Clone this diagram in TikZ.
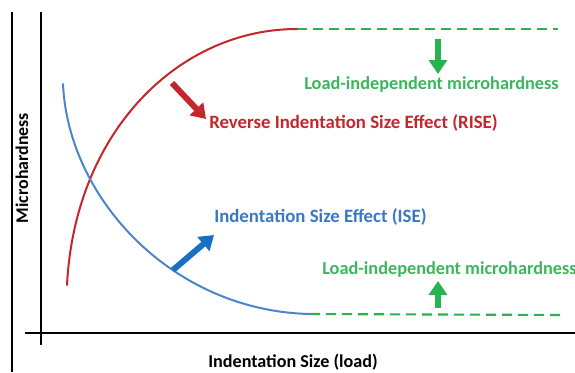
\documentclass[tikz,border=0pt]{standalone}
\usepackage{fontspec}
\setmainfont{Carlito}
\usetikzlibrary{arrows.meta}
\definecolor{risered}{RGB}{196,38,44}
\definecolor{isecurve}{RGB}{74,134,200}
\definecolor{isearrow}{RGB}{24,112,196}
\definecolor{isetext}{RGB}{58,120,196}
\definecolor{flatgreen}{RGB}{40,178,80}
\definecolor{labelgreen}{RGB}{58,182,92}
\tikzset{
  axis/.style={line width=2pt, black},
  curve/.style={line width=1.5pt},
  plateau/.style={line width=1.6pt, flatgreen, dash pattern=on 7.5pt off 4.5pt},
  fatarrow/.style={line width=4.5pt, -{Triangle[width=13.5pt,length=10.5pt]}},
  lbl/.style={inner sep=0pt, font=\bfseries\fontsize{14.1}{16}\selectfont},
  greenlbl/.style={lbl, labelgreen, font=\bfseries\fontsize{13.7}{16}\selectfont},
}
\begin{document}
\begin{tikzpicture}[x=0.75pt, y=-0.75pt]
\useasboundingbox (0,0) rectangle (575,372);
% frame edge and axes
\draw[line width=2.2pt] (12,12) -- (12,372);
\coordinate (yTop) at (41,12);
\coordinate (yBot) at (41,345);
\coordinate (xL) at (25,333);
\coordinate (xR) at (578,333);
\draw[axis] (yBot) -- (yTop);
\draw[axis] (xL) -- (xR);

% curves
\coordinate (riseStart) at (67,285);
\coordinate (riseEnd) at (297,29);
\coordinate (iseStart) at (63,84);
\coordinate (iseEnd) at (310,314);
\coordinate (topEnd) at (558,29);
\coordinate (botEnd) at (565,315);
\draw[plateau] (riseEnd) -- (topEnd);
\draw[plateau] (iseEnd) -- (botEnd);
\draw[curve, risered, line cap=round] (riseStart) .. controls (75,130) and (180,29) .. (riseEnd);
\draw[curve, isecurve, line cap=round] (iseStart) .. controls (68,198) and (172,311) .. (iseEnd);

% labels
\node[lbl, risered, anchor=west] (rise) at (209,123) {Reverse Indentation Size Effect (RISE)};
\node[lbl, isetext, anchor=west] (ise) at (214,217) {Indentation Size Effect (ISE)};
\node[greenlbl, anchor=west] (topLbl) at (304,85) {Load-independent microhardness};
\node[greenlbl, anchor=west] (botLbl) at (322,270) {Load-independent microhardness};
\node[lbl, black, font=\bfseries\fontsize{13.6}{16}\selectfont] (xlab) at (293,362) {Indentation Size (load)};
\node[lbl, black, rotate=90, font=\bfseries\fontsize{13.4}{15}\selectfont] (ylab) at (22,168) {Microhardness};

% pointer arrows
\coordinate (riseTail) at (172,83);
\coordinate (riseTip) at (206,119);
\coordinate (iseTail) at (173,270);
\coordinate (iseTip) at (214,235);
\coordinate (topTail) at (438,39);
\coordinate (topTip) at (438,74);
\coordinate (botTail) at (438,308);
\coordinate (botTip) at (438,281);
\draw[fatarrow, risered] (riseTail) -- (riseTip);
\draw[fatarrow, isearrow] (iseTail) -- (iseTip);
\draw[fatarrow, flatgreen, line width=3.8pt] (topTail) -- (topTip);
\draw[fatarrow, flatgreen, line width=3.8pt] (botTail) -- (botTip);
\end{tikzpicture}
\end{document}
